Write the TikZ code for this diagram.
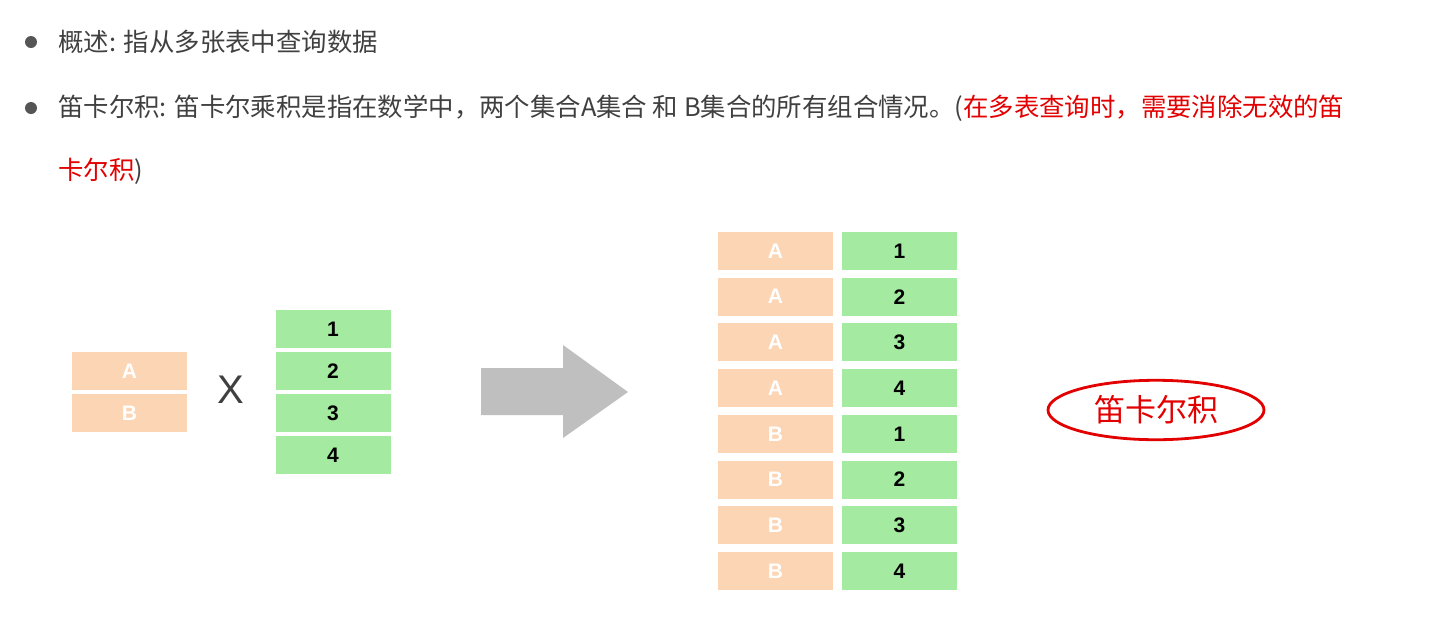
\documentclass[tikz,border=0pt]{standalone}
\usepackage{fontspec}
\setmainfont{Noto Sans CJK SC}
\newfontfamily\latinsans{Liberation Sans}
\usetikzlibrary{shapes.geometric}
\definecolor{textgray}{RGB}{64,64,64}
\definecolor{dotgray}{RGB}{85,85,85}
\definecolor{notered}{RGB}{226,0,0}
\definecolor{peach}{RGB}{252,213,180}
\definecolor{lightgreen}{RGB}{164,234,160}
\definecolor{arrowgray}{RGB}{191,191,191}
\begin{document}
\begin{tikzpicture}[x=0.5pt,y=-0.5pt,
  dot/.style={circle, fill=dotgray, inner sep=0pt, minimum size=6pt},
  txt/.style={anchor=west, inner sep=0pt, text=textgray, font=\fontsize{12.7}{15}\selectfont},
  abox/.style={fill=peach, minimum width=57.5pt, minimum height=19pt, inner sep=0pt,
    text=white, font=\latinsans\bfseries\fontsize{10.5}{12}\selectfont},
  nbox/.style={fill=lightgreen, minimum width=57.5pt, minimum height=19pt, inner sep=0pt,
    text=black, font=\latinsans\bfseries\fontsize{10.5}{12}\selectfont}]
\useasboundingbox (0,0) rectangle (1448,617);

% bullet lines
\node[dot] (dot1) at (31,42) {};
\node[dot] (dot2) at (31,108) {};
\node[txt] (line1) at (58,42) {概述: 指从多张表中查询数据};
\node[txt] (line2) at (58,108) {笛卡尔积: 笛卡尔乘积是指在数学中，两个集合A集合 和 B集合的所有组合情况。(\textcolor{notered}{在多表查询时，需要消除无效的笛}};
\node[txt] (line3) at (58,171) {\textcolor{notered}{卡尔积})};

% the two sets
\node[abox] (la) at (129.5,371) {A};
\node[abox] (lb) at (129.5,413) {B};
\node[text=textgray, font=\latinsans\fontsize{20}{24}\selectfont] (times) at (231,390) {X};
\foreach \n in {1,...,4}
  \node[nbox] (g\n) at (333,{329+42*(\n-1)}) {\n};

% big arrow
\fill[arrowgray] (481,368) -- (563,368) -- (563,345) -- (628,392)
  -- (563,438) -- (563,415) -- (481,415) -- cycle;

% result
\foreach \l [count=\i] in {A,A,A,A,B,B,B,B} {
  \pgfmathtruncatemacro{\n}{mod(\i-1,4)+1}
  \node[abox] (ra\i) at (775.5,{251+45.71*(\i-1)}) {\l};
  \node[nbox] (rn\i) at (899.5,{251+45.71*(\i-1)}) {\n};
}

\node[draw=notered, line width=1.4pt, ellipse, minimum width=108pt, minimum height=27pt,
  text=notered, font=\fontsize{15.5}{18}\selectfont] (cart) at (1156,410) {笛卡尔积};
\end{tikzpicture}
\end{document}
